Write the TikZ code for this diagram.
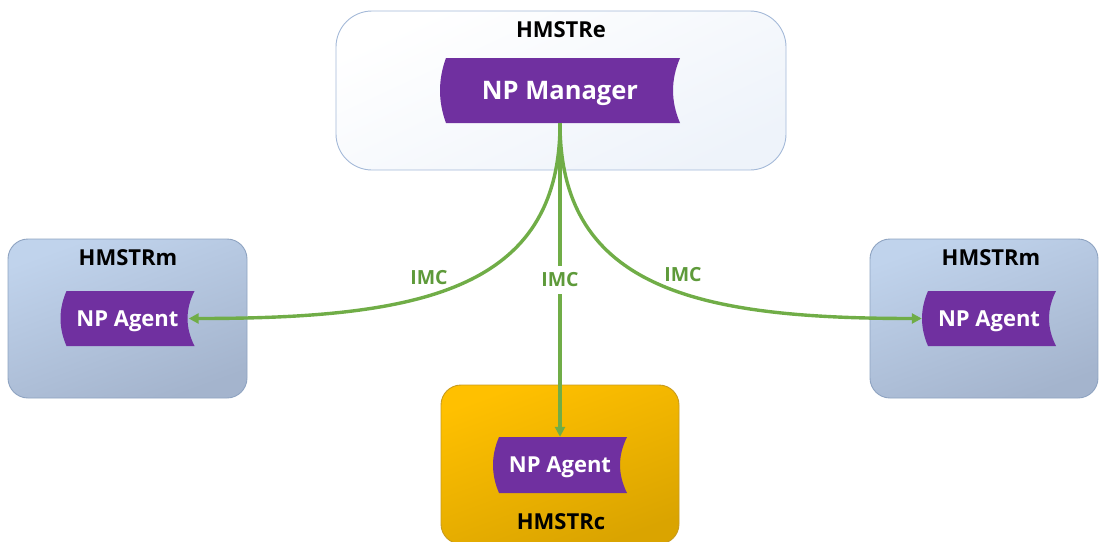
\documentclass[tikz,border=0pt]{standalone}
\usepackage{fontspec}
\setmainfont{Open Sans}
\usetikzlibrary{arrows.meta,calc}

\definecolor{npPurple}{HTML}{7030A0}
\definecolor{imcGreen}{HTML}{70AD47}
\definecolor{imcText}{HTML}{5E9A3A}
\definecolor{eTop}{HTML}{FFFFFF}
\definecolor{eBot}{HTML}{EEF3FA}
\definecolor{eLine}{HTML}{A4B9D8}
\definecolor{mTop}{HTML}{C0D3EC}
\definecolor{mBot}{HTML}{A4B4CD}
\definecolor{mLine}{HTML}{8EA3C1}
\definecolor{cTop}{HTML}{FFC000}
\definecolor{cBot}{HTML}{DAA400}
\definecolor{cLine}{HTML}{C89B1E}

\tikzset{
  hostbox/.style={rectangle, rounded corners=#1, line width=0.9pt, inner sep=0pt},
  ebox/.style={hostbox=36pt, draw=eLine, top color=eTop, bottom color=eBot, shading angle=25},
  mbox/.style={hostbox=20pt, draw=mLine, top color=mTop, bottom color=mBot, shading angle=20},
  cbox/.style={hostbox=20pt, draw=cLine, top color=cTop, bottom color=cBot, shading angle=20},
  hostlbl/.style={font=\bfseries\fontsize{22}{24}\selectfont, text=black, inner sep=0pt},
  % stored-data style tag: convex left side, concave right side
  nptag/.style={rectangle, inner sep=0pt, text=white, text depth=0pt,
    font=\bfseries\fontsize{#1}{#1}\selectfont,
    path picture={
      \fill[npPurple]
        ([xshift=6pt]path picture bounding box.north west)
        -- (path picture bounding box.north east)
        .. controls ($(path picture bounding box.north east)!1/3!(path picture bounding box.south east)+(-9.3pt,0)$)
        and ($(path picture bounding box.north east)!2/3!(path picture bounding box.south east)+(-9.3pt,0)$)
        .. (path picture bounding box.south east)
        -- ([xshift=6pt]path picture bounding box.south west)
        .. controls ($(path picture bounding box.south west)!1/3!(path picture bounding box.north west)+(-2pt,0)$)
        and ($(path picture bounding box.south west)!2/3!(path picture bounding box.north west)+(-2pt,0)$)
        .. ([xshift=6pt]path picture bounding box.north west) -- cycle;
    }},
  imc/.style={draw=imcGreen, line width=3.4pt, -{Triangle[length=10pt,width=10pt]}},
  imclbl/.style={font=\bfseries\fontsize{19.5}{20}\selectfont, text=imcText, inner sep=0pt}
}

\begin{document}
\begin{tikzpicture}[x=1pt,y=-1pt]
\useasboundingbox (0,0) rectangle (1099,541);

% host containers
\node[ebox, minimum width=450pt, minimum height=159pt] (hmstre) at (561,90.5) {};
\node[mbox, minimum width=239pt, minimum height=159pt] (hmstrml) at (127.5,318.5) {};
\node[mbox, minimum width=228pt, minimum height=159pt] (hmstrmr) at (984,318.5) {};
\node[cbox, minimum width=238pt, minimum height=159pt] (hmstrc) at (560,464.5) {};

% host names
\node[hostlbl] (lble) at (561,30) {HMSTRe};
\node[hostlbl] (lblml) at (128,258) {HMSTRm};
\node[hostlbl] (lblmr) at (991,258) {HMSTRm};
\node[hostlbl] (lblc) at (561,522) {HMSTRc};

% processes
\node[nptag=25.5, minimum width=240pt, minimum height=65pt] (mgr) at (560,90.5) {NP Manager};
\node[nptag=22, minimum width=134pt, minimum height=55pt] (agl) at (127.5,318.5) {NP Agent};
\node[nptag=22, minimum width=134pt, minimum height=55pt] (agr) at (989,318.5) {NP Agent};
\node[nptag=22, minimum width=134pt, minimum height=56pt] (agb) at (560,465) {NP Agent};

% IMC links
\draw[imc] (mgr.south) .. controls +(0,167) and +(232,0) .. ([xshift=-6pt]agl.east);
\draw[imc] (mgr.south) .. controls +(0,167) and +(-221,0) .. (agr.west);
\draw[imc] (mgr.south) -- node[imclbl, fill=white, minimum height=28pt, minimum width=40pt] (imcm) {IMC} (agb.north);

\node[imclbl] (imcl) at (429,278) {IMC};
\node[imclbl] (imcr) at (683,275) {IMC};
\end{tikzpicture}
\end{document}
